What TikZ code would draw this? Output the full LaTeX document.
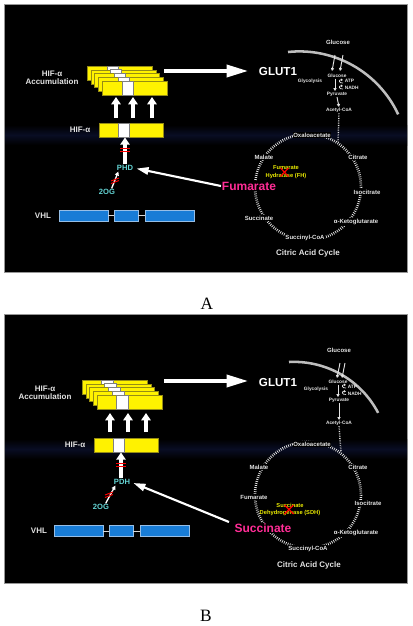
\documentclass[tikz,border=0pt]{standalone}
\usepackage{fontspec}
\setmainfont{Liberation Sans}
\newfontfamily\serifA{Liberation Serif}
\usetikzlibrary{arrows.meta}
\definecolor{hifyellow}{RGB}{255,242,0}
\definecolor{hifedge}{RGB}{150,140,20}
\definecolor{vhlblue}{RGB}{24,124,214}
\definecolor{vhledge}{RGB}{150,190,230}
\definecolor{phdcyan}{RGB}{100,212,212}
\definecolor{metpink}{RGB}{255,45,150}
\definecolor{navyband}{RGB}{9,13,36}
\definecolor{lbltext}{RGB}{228,228,228}
\definecolor{panelborder}{RGB}{150,150,150}
\definecolor{membrane}{RGB}{190,190,190}
\definecolor{enzyellow}{RGB}{235,235,0}
\tikzset{
 panel/.style={fill=black, draw=panelborder, line width=0.6pt},
 yb/.style={fill=hifyellow, draw=hifedge, line width=0.3pt},
 ws/.style={fill=white, draw=gray, line width=0.5pt},
 hifbox/.style={fill=hifyellow, draw=hifedge, line width=0.3pt, minimum width=48pt, minimum height=10.5pt, inner sep=0pt},
 wsq/.style={fill=white, draw=gray, line width=0.6pt, minimum width=8.25pt, minimum height=10.5pt, inner sep=0pt},
 vbox/.style={fill=vhlblue, draw=vhledge, line width=0.4pt, minimum height=8.5pt, inner sep=0pt},
 lab/.style={font=\bfseries\fontsize{4.5}{5}\selectfont, text=lbltext, fill=black, inner sep=0.6pt},
 tinylab/.style={font=\bfseries\fontsize{3.6}{4}\selectfont, text=lbltext, inner sep=0.4pt},
 midlab/.style={font=\bfseries\fontsize{6}{6}\selectfont, text=lbltext, align=center, inner sep=0.5pt},
 toplab/.style={font=\bfseries\fontsize{4.5}{5}\selectfont, text=lbltext, inner sep=0.5pt},
 enzlab/.style={font=\bfseries\fontsize{5.7}{6}\selectfont, text=phdcyan, inner sep=0.5pt},
 glutlab/.style={font=\bfseries\fontsize{8.7}{9}\selectfont, text=white, inner sep=0.5pt},
 metlab/.style={font=\bfseries\fontsize{9}{10}\selectfont, text=metpink, fill=black, inner sep=0.6pt},
 fhlab/.style={font=\bfseries\fontsize{4.3}{5.6}\selectfont, text=enzyellow, align=center, inner sep=0.3pt},
 panlab/.style={font=\serifA\fontsize{13}{13}\selectfont, text=black, inner sep=0pt},
 fat/.style={white, line width=2.6pt, -{Triangle[length=5.5pt,width=7pt]}},
 bigarrow/.style={white, line width=2.5pt, -{Triangle[length=16pt,width=9pt]}},
 thinarrow/.style={white, line width=1.6pt, -{Triangle[length=9pt,width=5.5pt]}},
 smallarrow/.style={white, line width=1pt, -{Triangle[length=3pt,width=3pt]}},
 tinyarrow/.style={lbltext, line width=0.7pt, -{Triangle[length=2.2pt,width=2.4pt]}},
 hookarrow/.style={lbltext, line width=0.5pt, -{Triangle[length=1.6pt,width=1.8pt]}},
 redmark/.style={red, line width=0.7pt},
 cyc/.style={lbltext, line width=2pt, dash pattern=on 0.55pt off 1pt},
 dotline/.style={lbltext, line width=1.1pt, dash pattern=on 0.5pt off 0.8pt},
 membr/.style={membrane, line width=1.9pt},
 vlink/.style={white!85!black, line width=0.6pt},
}
\begin{document}
\begin{tikzpicture}[x=0.75pt,y=-0.75pt]
\useasboundingbox (0,0) rectangle (412,626);
\fill[white] (0,0) rectangle (412,626);

% ================= PANEL A =================
\draw[panel] (4.5,4.5) rectangle (407.5,272);
\shade[top color=black, bottom color=black, middle color=navyband] (5,125) rectangle (407,145);

\foreach \i in {0,...,4}{
  \draw[yb] ({87+3.75*\i},{66+3.75*\i}) rectangle ++(65,14);
  \draw[ws] ({107+3.75*\i},{66+3.75*\i}) rectangle ++(11,14);
}
\node[midlab] (accA) at (52,78) {HIF-α\\Accumulation};
\coordinate (gsA) at (164,71);
\node[glutlab] (glutA) at (278,72) {GLUT1};
\draw[bigarrow, shorten >=7.5pt] (gsA) -- (glutA.west |- gsA);

\node[hifbox] (hifA) at (131,130) {};
\node[wsq] (sqA) at (123.5,130) {};
\node[midlab] (hiflA) at (80,130) {HIF-α};
\foreach \x [count=\k] in {116,133,152}{
  \coordinate (ubA\k) at (\x,118);
  \coordinate (utA\k) at (\x,97);
  \draw[fat] (ubA\k) -- (utA\k);
}

\node[enzlab] (phdA) at (125,168) {PHD};
\draw[fat] (phdA.north) -- (phdA.north |- sqA.south);
\draw[redmark] (120,148) -- (130,148) (120,151) -- (130,151);
\node[enzlab] (ogA) at (107,192) {2OG};
\draw[smallarrow] ([xshift=3.5pt]ogA.north) -- ([xshift=-5pt]phdA.south);
\draw[redmark] (111,181) -- (119,178) (111,183.5) -- (119,180.5);

\node[midlab] (vhlA) at (43,216) {VHL};
\node[vbox, minimum width=36.75pt] (vA1) at (83.5,215.5) {};
\node[vbox, minimum width=18pt] (vA2) at (126,215.5) {};
\node[vbox, minimum width=36.75pt] (vA3) at (169.5,215.5) {};
\draw[vlink] (vA1) -- (vA2) (vA2) -- (vA3);

% glycolysis A
\draw[membr] (288,52) arc[start angle=-96, end angle=-25, radius=109];
\node[toplab] (glcoA) at (338,42) {Glucose};
\coordinate (t1aA) at (335,55); \coordinate (t1bA) at (332,71);
\coordinate (t2aA) at (343,55); \coordinate (t2bA) at (340,71);
\draw[tinyarrow] (t1aA) -- (t1bA);
\draw[tinyarrow] (t2aA) -- (t2bA);
\node[tinylab] (glciA) at (337,76) {Glucose};
\node[tinylab] (glyA) at (310,81) {Glycolysis};
\node[tinylab] (pyrA) at (337,94) {Pyruvate};
\draw[tinyarrow] ([xshift=-1.5pt]glciA.south) -- ([xshift=-1.5pt]pyrA.north);
\draw[hookarrow] (343,83) .. controls (338.5,83.5) and (338.5,79.5) .. (343,80);
\draw[hookarrow] (343,89) .. controls (338.5,89.5) and (338.5,85.5) .. (343,86);
\node[tinylab, anchor=west] (atpA) at (344,81) {ATP};
\node[tinylab, anchor=west] (nadhA) at (344,88) {NADH};
\node[tinylab] (acoaA) at (339,110) {Acetyl-CoA};
\draw[tinyarrow] (pyrA.south) -- (acoaA.north);
\coordinate (cjA) at (338,142);
\draw[dotline] (acoaA.south) -- (cjA);

% cycle A
\draw[cyc] (308,187) circle[radius=53];
\node[lab] (oxaA) at (312,135) {Oxaloacetate};
\node[lab] (citA) at (358,157) {Citrate};
\node[lab] (isoA) at (367,192) {Isocitrate};
\node[lab] (akgA) at (356,222) {α-Ketoglutarate};
\node[lab] (scoaA) at (305,238) {Succinyl-CoA};
\node[lab] (sucA) at (259,218) {Succinate};
\node[lab] (malA) at (264,157) {Malate};
\node[metlab] (fumA) at (249,186) {Fumarate};
\node[fhlab] (fhA) at (286,172) {Fumarate\\Hydratase (FH)};
\draw[redmark, line width=0.9pt] (280.5,168) -- (288.5,176.5) (280.5,176.5) -- (288.5,168);
\node[midlab] (tcaA) at (308,253) {Citric Acid Cycle};
\draw[thinarrow, shorten >=2pt] (fumA.west) -- (phdA.east);

\node[panlab] (labA) at (207,304) {A};

% ================= PANEL B =================
\draw[panel] (4.5,314.5) rectangle (407.5,583);
\shade[top color=black, bottom color=black, middle color=navyband] (5,439) rectangle (407,459);

\foreach \i in {0,...,4}{
  \draw[yb] ({82+3.75*\i},{380+3.75*\i}) rectangle ++(65,14);
  \draw[ws] ({101+3.75*\i},{380+3.75*\i}) rectangle ++(12,14);
}
\node[midlab] (accB) at (45,393) {HIF-α\\Accumulation};
\coordinate (gsB) at (164,381);
\node[glutlab] (glutB) at (278,382) {GLUT1};
\draw[bigarrow, shorten >=7.5pt] (gsB) -- (glutB.west |- gsB);

\node[hifbox] (hifB) at (126,445) {};
\node[wsq] (sqB) at (118.5,445) {};
\node[midlab] (hiflB) at (75,445) {HIF-α};
\foreach \x [count=\k] in {110,128,146}{
  \coordinate (ubB\k) at (\x,432);
  \coordinate (utB\k) at (\x,413);
  \draw[fat] (ubB\k) -- (utB\k);
}

\node[enzlab] (pdhB) at (122,482) {PDH};
\draw[fat] ([xshift=-0.75pt]pdhB.north) -- ([xshift=-0.75pt]pdhB.north |- sqB.south);
\draw[redmark] (116,463) -- (126,463) (116,466) -- (126,466);
\node[enzlab] (ogB) at (101,507) {2OG};
\draw[smallarrow] ([xshift=3.5pt]ogB.north) -- ([xshift=-5pt]pdhB.south);
\draw[redmark] (105,495) -- (113,492) (105,497.5) -- (113,494.5);

\node[midlab] (vhlB) at (39,531) {VHL};
\node[vbox, minimum width=36.75pt] (vB1) at (78.5,531) {};
\node[vbox, minimum width=18pt] (vB2) at (121,531) {};
\node[vbox, minimum width=36.75pt] (vB3) at (164.5,531) {};
\draw[vlink] (vB1) -- (vB2) (vB2) -- (vB3);

% glycolysis B
\draw[membr] (289,362) arc[start angle=-93, end angle=-27.6, radius=95];
\node[toplab] (glcoB) at (339,350) {Glucose};
\coordinate (t1aB) at (340,363); \coordinate (t1bB) at (337,378);
\coordinate (t2aB) at (345,363); \coordinate (t2bB) at (342,378);
\draw[tinyarrow] (t1aB) -- (t1bB);
\draw[tinyarrow] (t2aB) -- (t2bB);
\node[tinylab] (glciB) at (338,382) {Glucose};
\node[tinylab] (glyB) at (316,389) {Glycolysis};
\node[tinylab] (pyrB) at (339,400) {Pyruvate};
\draw[tinyarrow] ([xshift=0pt]glciB.south) -- ([xshift=-0.75pt]pyrB.north);
\draw[hookarrow] (346,388) .. controls (341.5,388.5) and (341.5,384.5) .. (346,385);
\draw[hookarrow] (346,394.5) .. controls (341.5,395) and (341.5,391) .. (346,391.5);
\node[tinylab, anchor=west] (atpB) at (347,387) {ATP};
\node[tinylab, anchor=west] (nadhB) at (347,393.5) {NADH};
\node[tinylab] (acoaB) at (339,423) {Acetyl-CoA};
\draw[tinyarrow] (pyrB.south) -- (acoaB.north);
\coordinate (cjB) at (341,452);
\draw[dotline] (acoaB.south) -- (cjB);

% cycle B
\draw[cyc] (308,495) circle[radius=53];
\node[lab] (oxaB) at (312,444) {Oxaloacetate};
\node[lab] (citB) at (358,467) {Citrate};
\node[lab] (isoB) at (368,503) {Isocitrate};
\node[lab] (akgB) at (356,533) {α-Ketoglutarate};
\node[lab] (scoaB) at (308,549) {Succinyl-CoA};
\node[lab] (fumB) at (254,497) {Fumarate};
\node[lab] (malB) at (259,467) {Malate};
\node[metlab] (sucB) at (263,528) {Succinate};
\node[fhlab] (sdhB) at (290,509.5) {Succinate\\Dehydrogenase (SDH)};
\draw[redmark, line width=0.9pt] (284.5,505) -- (293.5,514) (284.5,514) -- (293.5,505);
\node[midlab] (tcaB) at (309,565) {Citric Acid Cycle};
\coordinate (ssB) at (229,522);
\draw[thinarrow, shorten >=2pt] (ssB) -- (pdhB.east);

\node[panlab] (labB) at (206,616) {B};
\end{tikzpicture}
\end{document}
